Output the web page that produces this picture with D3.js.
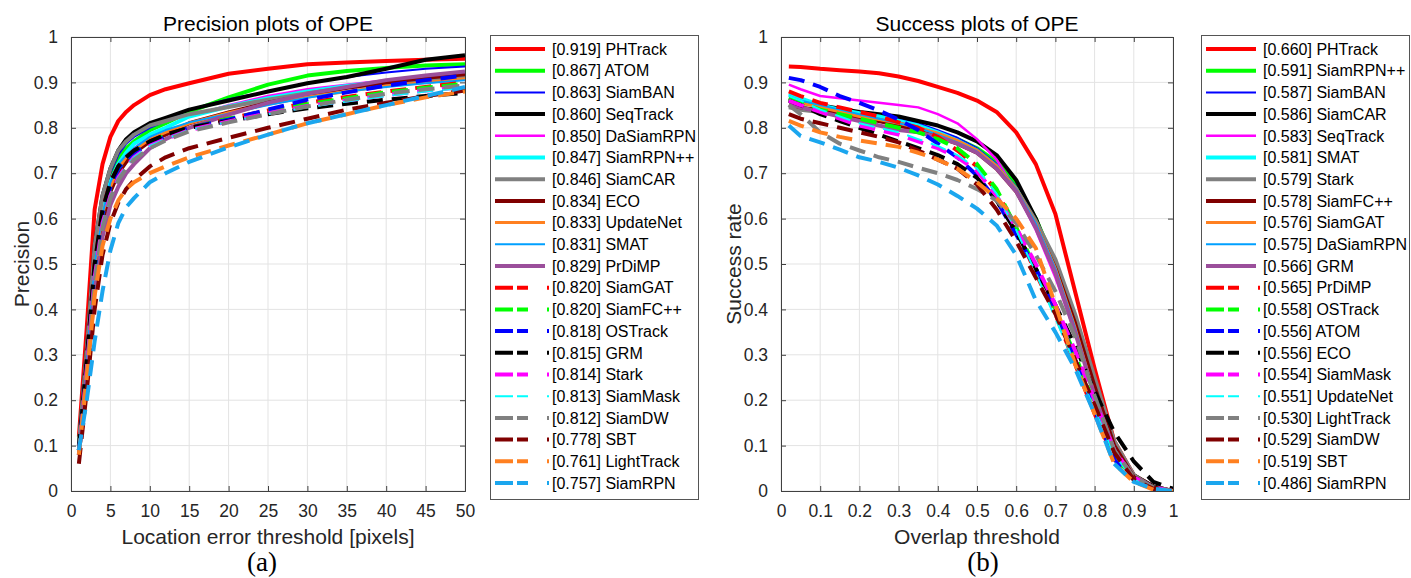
<!DOCTYPE html>
<html>
<head>
<meta charset="utf-8">
<script src="https://cdnjs.cloudflare.com/ajax/libs/d3/7.8.5/d3.min.js"></script>
<style>
  body { margin: 0; background: #fff; }
  text { font-family: "Liberation Sans", Arial, Helvetica, sans-serif; fill: #262626; }
</style>
</head>
<body>
<div class="wrapper"></div>
<script>
// thresholds used on the x axis of each plot
var precisionThresholds = [1, 2, 3, 4, 5, 6, 7, 8, 10, 12, 15, 20, 25, 30, 35, 40, 45, 50];
var successThresholds = [0.02, 0.05, 0.1, 0.15, 0.2, 0.25, 0.3, 0.35, 0.4, 0.45, 0.5,
                         0.55, 0.6, 0.65, 0.7, 0.75, 0.8, 0.85, 0.9, 0.95, 1];

var precisionXTicks = [0, 5, 10, 15, 20, 25, 30, 35, 40, 45, 50];
var successXTicks = [0, 0.1, 0.2, 0.3, 0.4, 0.5, 0.6, 0.7, 0.8, 0.9, 1];
var yTicks = [0, 0.1, 0.2, 0.3, 0.4, 0.5, 0.6, 0.7, 0.8, 0.9, 1];

// (a) precision plot
var precisionTrackers = ["PHTrack", "ATOM", "SiamBAN", "SeqTrack", "DaSiamRPN", "SiamRPN++", "SiamCAR",
  "ECO", "UpdateNet", "SMAT", "PrDiMP", "SiamGAT", "SiamFC++", "OSTrack", "GRM", "Stark", "SiamMask",
  "SiamDW", "SBT", "LightTrack", "SiamRPN"];
var precisionScores = [0.919, 0.867, 0.863, 0.860, 0.850, 0.847, 0.846, 0.834, 0.833, 0.831, 0.829,
  0.820, 0.820, 0.818, 0.815, 0.814, 0.813, 0.812, 0.778, 0.761, 0.757];
var precisionCurves = [
  [0.12, 0.36, 0.62, 0.72, 0.78, 0.815, 0.835, 0.85, 0.872, 0.885, 0.898, 0.919, 0.93, 0.94, 0.944, 0.947, 0.95, 0.952],
  [0.10, 0.30, 0.52, 0.63, 0.69, 0.73, 0.755, 0.77, 0.795, 0.81, 0.835, 0.867, 0.895, 0.915, 0.925, 0.932, 0.937, 0.94],
  [0.10, 0.31, 0.53, 0.64, 0.70, 0.74, 0.765, 0.78, 0.80, 0.815, 0.84, 0.863, 0.88, 0.898, 0.912, 0.922, 0.93, 0.935],
  [0.10, 0.31, 0.54, 0.65, 0.71, 0.75, 0.775, 0.79, 0.81, 0.822, 0.84, 0.86, 0.88, 0.898, 0.912, 0.93, 0.95, 0.96],
  [0.09, 0.28, 0.48, 0.60, 0.67, 0.71, 0.735, 0.755, 0.78, 0.80, 0.825, 0.85, 0.87, 0.885, 0.895, 0.905, 0.912, 0.918],
  [0.09, 0.29, 0.50, 0.62, 0.68, 0.72, 0.745, 0.765, 0.785, 0.80, 0.825, 0.847, 0.865, 0.88, 0.892, 0.902, 0.91, 0.915],
  [0.10, 0.31, 0.54, 0.65, 0.71, 0.75, 0.77, 0.785, 0.805, 0.815, 0.83, 0.846, 0.862, 0.876, 0.888, 0.898, 0.905, 0.91],
  [0.08, 0.27, 0.47, 0.59, 0.66, 0.70, 0.725, 0.745, 0.77, 0.785, 0.81, 0.834, 0.855, 0.872, 0.888, 0.90, 0.91, 0.918],
  [0.09, 0.28, 0.49, 0.61, 0.67, 0.71, 0.735, 0.75, 0.775, 0.79, 0.81, 0.833, 0.852, 0.868, 0.88, 0.892, 0.90, 0.908],
  [0.09, 0.29, 0.50, 0.61, 0.68, 0.72, 0.74, 0.755, 0.78, 0.795, 0.812, 0.831, 0.85, 0.866, 0.88, 0.89, 0.898, 0.905],
  [0.08, 0.25, 0.44, 0.56, 0.63, 0.67, 0.70, 0.72, 0.755, 0.775, 0.80, 0.829, 0.855, 0.875, 0.89, 0.905, 0.915, 0.924],
  [0.09, 0.29, 0.50, 0.62, 0.68, 0.715, 0.735, 0.75, 0.77, 0.785, 0.80, 0.82, 0.838, 0.855, 0.868, 0.88, 0.89, 0.90],
  [0.09, 0.28, 0.49, 0.61, 0.67, 0.71, 0.73, 0.745, 0.768, 0.783, 0.80, 0.82, 0.837, 0.852, 0.865, 0.878, 0.888, 0.897],
  [0.09, 0.28, 0.49, 0.61, 0.67, 0.71, 0.73, 0.745, 0.765, 0.78, 0.80, 0.818, 0.84, 0.862, 0.878, 0.893, 0.905, 0.915],
  [0.09, 0.29, 0.50, 0.62, 0.68, 0.715, 0.735, 0.75, 0.77, 0.785, 0.80, 0.815, 0.83, 0.843, 0.853, 0.862, 0.87, 0.877],
  [0.08, 0.27, 0.47, 0.59, 0.65, 0.69, 0.715, 0.735, 0.76, 0.775, 0.795, 0.814, 0.832, 0.848, 0.86, 0.872, 0.882, 0.89],
  [0.08, 0.27, 0.47, 0.59, 0.65, 0.69, 0.715, 0.735, 0.76, 0.775, 0.795, 0.813, 0.83, 0.845, 0.858, 0.87, 0.88, 0.888],
  [0.08, 0.26, 0.46, 0.58, 0.645, 0.685, 0.71, 0.73, 0.755, 0.772, 0.792, 0.812, 0.83, 0.847, 0.862, 0.875, 0.885, 0.893],
  [0.06, 0.22, 0.40, 0.52, 0.59, 0.635, 0.665, 0.685, 0.715, 0.735, 0.755, 0.778, 0.80, 0.82, 0.84, 0.855, 0.87, 0.882],
  [0.08, 0.25, 0.43, 0.54, 0.60, 0.64, 0.665, 0.68, 0.70, 0.715, 0.735, 0.761, 0.785, 0.81, 0.83, 0.85, 0.867, 0.88],
  [0.09, 0.20, 0.33, 0.44, 0.53, 0.59, 0.625, 0.645, 0.68, 0.70, 0.725, 0.757, 0.785, 0.81, 0.83, 0.85, 0.87, 0.89]
];

// (b) success plot
var successTrackers = ["PHTrack", "SiamRPN++", "SiamBAN", "SiamCAR", "SeqTrack", "SMAT", "Stark",
  "SiamFC++", "SiamGAT", "DaSiamRPN", "GRM", "PrDiMP", "OSTrack", "ATOM", "ECO", "SiamMask", "UpdateNet",
  "LightTrack", "SiamDW", "SBT", "SiamRPN"];
var successScores = [0.660, 0.591, 0.587, 0.586, 0.583, 0.581, 0.579, 0.578, 0.576, 0.575, 0.566,
  0.565, 0.558, 0.556, 0.556, 0.554, 0.551, 0.530, 0.529, 0.519, 0.486];
var successCurves = [
  [0.935, 0.934, 0.93, 0.927, 0.924, 0.92, 0.913, 0.903, 0.89, 0.877, 0.86, 0.835, 0.79, 0.72, 0.61, 0.44, 0.27, 0.11, 0.035, 0.01, 0],
  [0.86, 0.855, 0.848, 0.84, 0.832, 0.825, 0.815, 0.805, 0.79, 0.775, 0.755, 0.725, 0.675, 0.60, 0.50, 0.37, 0.23, 0.10, 0.03, 0.008, 0],
  [0.86, 0.855, 0.85, 0.842, 0.835, 0.828, 0.82, 0.81, 0.795, 0.778, 0.755, 0.72, 0.67, 0.59, 0.49, 0.36, 0.22, 0.10, 0.03, 0.008, 0],
  [0.865, 0.86, 0.85, 0.842, 0.835, 0.83, 0.825, 0.815, 0.805, 0.79, 0.77, 0.74, 0.685, 0.60, 0.49, 0.36, 0.22, 0.10, 0.035, 0.01, 0],
  [0.895, 0.885, 0.87, 0.865, 0.86, 0.855, 0.85, 0.845, 0.83, 0.81, 0.775, 0.73, 0.66, 0.575, 0.47, 0.35, 0.21, 0.09, 0.03, 0.008, 0],
  [0.875, 0.865, 0.85, 0.84, 0.832, 0.825, 0.815, 0.805, 0.79, 0.772, 0.75, 0.715, 0.665, 0.59, 0.49, 0.36, 0.22, 0.09, 0.03, 0.008, 0],
  [0.845, 0.84, 0.835, 0.83, 0.825, 0.818, 0.81, 0.80, 0.785, 0.77, 0.75, 0.715, 0.665, 0.595, 0.51, 0.39, 0.25, 0.11, 0.035, 0.008, 0],
  [0.85, 0.845, 0.838, 0.83, 0.822, 0.815, 0.805, 0.795, 0.78, 0.765, 0.745, 0.71, 0.66, 0.585, 0.49, 0.37, 0.23, 0.10, 0.03, 0.008, 0],
  [0.86, 0.855, 0.845, 0.835, 0.825, 0.818, 0.81, 0.80, 0.788, 0.772, 0.75, 0.715, 0.665, 0.59, 0.49, 0.36, 0.21, 0.09, 0.025, 0.005, 0],
  [0.87, 0.86, 0.85, 0.84, 0.83, 0.82, 0.81, 0.80, 0.785, 0.768, 0.748, 0.712, 0.665, 0.59, 0.49, 0.36, 0.21, 0.09, 0.025, 0.005, 0],
  [0.85, 0.845, 0.835, 0.825, 0.815, 0.805, 0.795, 0.79, 0.78, 0.765, 0.745, 0.71, 0.66, 0.58, 0.48, 0.35, 0.21, 0.09, 0.025, 0.005, 0],
  [0.88, 0.87, 0.855, 0.845, 0.835, 0.825, 0.812, 0.80, 0.78, 0.75, 0.715, 0.66, 0.58, 0.48, 0.39, 0.28, 0.17, 0.07, 0.025, 0.005, 0],
  [0.865, 0.855, 0.84, 0.83, 0.82, 0.81, 0.80, 0.79, 0.775, 0.755, 0.72, 0.665, 0.58, 0.49, 0.40, 0.30, 0.19, 0.08, 0.025, 0.005, 0],
  [0.91, 0.905, 0.89, 0.87, 0.855, 0.838, 0.818, 0.795, 0.765, 0.735, 0.695, 0.64, 0.565, 0.49, 0.40, 0.29, 0.18, 0.07, 0.025, 0.005, 0],
  [0.86, 0.85, 0.83, 0.815, 0.80, 0.785, 0.77, 0.755, 0.74, 0.72, 0.69, 0.64, 0.57, 0.49, 0.41, 0.32, 0.22, 0.13, 0.065, 0.02, 0.005],
  [0.86, 0.85, 0.835, 0.82, 0.805, 0.795, 0.785, 0.77, 0.755, 0.735, 0.705, 0.65, 0.58, 0.50, 0.41, 0.31, 0.20, 0.09, 0.03, 0.008, 0],
  [0.87, 0.86, 0.84, 0.825, 0.81, 0.80, 0.79, 0.775, 0.76, 0.74, 0.71, 0.655, 0.575, 0.48, 0.38, 0.28, 0.18, 0.08, 0.025, 0.005, 0],
  [0.85, 0.83, 0.79, 0.765, 0.75, 0.735, 0.725, 0.712, 0.70, 0.685, 0.665, 0.64, 0.59, 0.52, 0.44, 0.34, 0.21, 0.09, 0.03, 0.008, 0],
  [0.83, 0.82, 0.81, 0.80, 0.79, 0.78, 0.768, 0.75, 0.73, 0.71, 0.675, 0.62, 0.55, 0.47, 0.39, 0.29, 0.19, 0.085, 0.025, 0.005, 0],
  [0.815, 0.805, 0.79, 0.78, 0.772, 0.765, 0.758, 0.745, 0.73, 0.71, 0.68, 0.645, 0.60, 0.535, 0.41, 0.28, 0.17, 0.06, 0.02, 0.003, 0],
  [0.805, 0.782, 0.768, 0.752, 0.735, 0.725, 0.712, 0.695, 0.675, 0.65, 0.622, 0.585, 0.52, 0.42, 0.35, 0.27, 0.17, 0.06, 0.02, 0.005, 0]
];

// line look by legend rank, identical in both plots
var lineStyles = [
  {color: "#ff0000", width: 4, dashed: false},
  {color: "#00ff00", width: 4, dashed: false},
  {color: "#0000ff", width: 2, dashed: false},
  {color: "#000000", width: 4, dashed: false},
  {color: "#ff00ff", width: 2.5, dashed: false},
  {color: "#00ffff", width: 4, dashed: false},
  {color: "#808080", width: 4, dashed: false},
  {color: "#800000", width: 4, dashed: false},
  {color: "#ff8020", width: 3, dashed: false},
  {color: "#00a0ff", width: 2, dashed: false},
  {color: "#9b4f9b", width: 4, dashed: false},
  {color: "#ff0000", width: 4, dashed: true},
  {color: "#00ff00", width: 4, dashed: true},
  {color: "#0000ff", width: 4, dashed: true},
  {color: "#000000", width: 4, dashed: true},
  {color: "#ff00ff", width: 4, dashed: true},
  {color: "#00ffff", width: 2, dashed: true},
  {color: "#808080", width: 4, dashed: true},
  {color: "#800000", width: 4, dashed: true},
  {color: "#ff8020", width: 4, dashed: true},
  {color: "#1ba6ee", width: 4, dashed: true}
];

var plotTop = 37, plotBottom = 491;
var axisColor = "#404040", gridColor = "#e3e3e3";

var svg = d3.select(".wrapper")
  .append("svg")
    .attr("width", 1411)
    .attr("height", 578);

drawPanel({
  id: "a", left: 71, right: 465, domain: [0, 50], xTicks: precisionXTicks,
  thresholds: precisionThresholds, curves: precisionCurves,
  names: precisionTrackers, scores: precisionScores,
  title: "Precision plots of OPE", xLabel: "Location error threshold [pixels]",
  yLabel: "Precision", yLabelX: 22, caption: "(a)", captionX: 262, legendX: 490
});

drawPanel({
  id: "b", left: 781, right: 1173, domain: [0, 1], xTicks: successXTicks,
  thresholds: successThresholds, curves: successCurves,
  names: successTrackers, scores: successScores,
  title: "Success plots of OPE", xLabel: "Overlap threshold",
  yLabel: "Success rate", yLabelX: 734, caption: "(b)", captionX: 983, legendX: 1201
});

function tickText(d) {
  return String(+d.toFixed(1));
}

function drawPanel(p) {
  var x = d3.scaleLinear().domain(p.domain).range([p.left, p.right]);
  var y = d3.scaleLinear().domain([0, 1]).range([plotBottom, plotTop]);
  var g = svg.append("g");

  g.append("clipPath").attr("id", "clip-" + p.id)
    .append("rect")
      .attr("x", p.left).attr("y", plotTop)
      .attr("width", p.right - p.left).attr("height", plotBottom - plotTop);

  // grid
  g.append("g").selectAll("line").data(p.xTicks).enter().append("line")
    .attr("x1", d => x(d)).attr("x2", d => x(d))
    .attr("y1", plotTop).attr("y2", plotBottom)
    .style("stroke", gridColor);
  g.append("g").selectAll("line").data(yTicks).enter().append("line")
    .attr("x1", p.left).attr("x2", p.right)
    .attr("y1", d => y(d)).attr("y2", d => y(d))
    .style("stroke", gridColor);

  // curves, first ranked drawn first
  var line = d3.line()
    .x((d, i) => x(p.thresholds[i]))
    .y(d => y(d));

  g.append("g").attr("clip-path", "url(#clip-" + p.id + ")")
    .selectAll("path")
    .data(p.curves)
    .enter().append("path")
      .attr("d", line)
      .style("fill", "none")
      .style("stroke", (d, i) => lineStyles[i].color)
      .style("stroke-width", (d, i) => lineStyles[i].width)
      .style("stroke-dasharray", (d, i) => lineStyles[i].dashed ? "16,9" : null)
      .style("stroke-linejoin", "round");

  // axes: ticks inward on all four sides
  var xAxisB = d3.axisBottom(x).tickValues(p.xTicks).tickSize(-5).tickPadding(14).tickFormat(tickText);
  var xAxisT = d3.axisTop(x).tickValues(p.xTicks).tickSize(-5).tickFormat("");
  var yAxisL = d3.axisLeft(y).tickValues(yTicks).tickSize(-5).tickPadding(13).tickFormat(tickText);
  var yAxisR = d3.axisRight(y).tickValues(yTicks).tickSize(-5).tickFormat("");

  [[xAxisB, "translate(0," + plotBottom + ")"], [xAxisT, "translate(0," + plotTop + ")"],
   [yAxisL, "translate(" + p.left + ",0)"], [yAxisR, "translate(" + p.right + ",0)"]].forEach(function(a) {
    var ax = g.append("g").attr("transform", a[1]).call(a[0]);
    ax.selectAll("path, line").style("stroke", axisColor);
    ax.selectAll("text").style("font-size", "17.5px")
      .style("font-family", "'Liberation Sans', Arial, sans-serif").style("fill", "#262626");
  });

  // titles
  var mid = (p.left + p.right) / 2;
  g.append("text").attr("x", mid).attr("y", 31)
    .attr("text-anchor", "middle").style("font-size", "21px").style("fill", "#000").text(p.title);
  g.append("text").attr("x", mid).attr("y", 544)
    .attr("text-anchor", "middle").style("font-size", "21px").text(p.xLabel);
  g.append("text")
    .attr("transform", "translate(" + p.yLabelX + "," + ((plotTop + plotBottom) / 2) + ") rotate(-90)")
    .attr("text-anchor", "middle").attr("dy", "0.35em")
    .style("font-size", "21px").text(p.yLabel);
  g.append("text").attr("x", p.captionX).attr("y", 571)
    .attr("text-anchor", "middle")
    .style("font-family", "'Liberation Serif', 'Times New Roman', serif")
    .style("font-size", "27px").style("fill", "#000").text(p.caption);

  // legend
  var legend = g.append("g").attr("transform", "translate(" + p.legendX + ",0)");
  legend.append("rect")
    .attr("x", 0.5).attr("y", 35.5).attr("width", 208).attr("height", 464)
    .style("fill", "#fff").style("stroke", "#555");

  var rows = legend.selectAll(".row")
    .data(p.names)
    .enter().append("g")
      .attr("class", "row")
      .attr("transform", (d, i) => "translate(0," + (49 + i * 21.7) + ")");

  rows.append("line")
    .attr("x1", 5).attr("x2", (d, i) => lineStyles[i].dashed ? 59 : 55)
    .style("stroke", (d, i) => lineStyles[i].color)
    .style("stroke-width", (d, i) => lineStyles[i].width)
    .style("stroke-dasharray", (d, i) => lineStyles[i].dashed ? "18,4,11,19,2,60" : null);

  rows.append("text")
    .attr("x", 62).attr("dy", "0.36em")
    .style("font-size", "16px").style("fill", "#000")
    .text((d, i) => "[" + p.scores[i].toFixed(3) + "] " + d);
}
</script>
</body>
</html>
